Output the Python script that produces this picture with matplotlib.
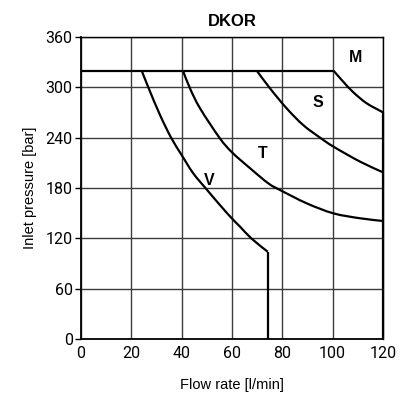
import matplotlib
matplotlib.use("Agg")
import matplotlib.pyplot as plt
from matplotlib.path import Path
from matplotlib.patches import PathPatch

# ---- data ----
title = "DKOR"
x_label = "Flow rate [l/min]"
y_label = "Inlet pressure [bar]"
x_ticks = [0, 20, 40, 60, 80, 100, 120]
y_ticks = [0, 60, 120, 180, 240, 300, 360]

max_flow = [0, 100.3]
max_pres = [320, 320]

v_flow = [24.1, 26.8, 31.4, 35.8, 40.0, 44.6, 49.9, 55.2, 59.9, 63.2, 67.8, 74.2]
v_pres = [320, 299.6, 267, 240, 219.3, 197.5, 178.4, 159.7, 143.9, 133.9, 119.6, 104]
v_drop_flow = [74.2, 74.2]
v_drop_pres = [104, 0]

t_flow = [40.5, 43.3, 47.3, 55.0, 60.0, 67.2, 74.4, 79.1, 89.7, 100.3, 110.9, 120]
t_pres = [320, 298.8, 275, 240, 222.5, 203.5, 185.6, 177.6, 161.7, 149.8, 143.9, 140.7]

s_flow = [69.8, 75.1, 81.7, 88.3, 95.0, 100.3, 110.9, 120]
s_pres = [320, 298.8, 275, 255, 240, 229.3, 211.4, 198.7]

m_flow = [100.3, 104.2, 108.2, 113.5, 120]
m_pres = [320, 306.7, 294.1, 281, 270.2]
m_drop_flow = [120, 120]
m_drop_pres = [270.2, 0]

curve_labels = ["M", "S", "T", "V"]
label_x = [108.9, 94.2, 72.0, 50.9]
label_y = [335, 282.5, 221.7, 189.5]


def smooth_path(ax, xs, ys):
    """Smooth rendering (Catmull-Rom as cubic Bezier) through the read points,
    built in display space."""
    pts = ax.transData.transform(list(zip(xs, ys)))
    n = len(pts)
    verts = [pts[0]]
    codes = [Path.MOVETO]
    for i in range(n - 1):
        p0 = pts[i - 1] if i > 0 else pts[i]
        p1 = pts[i]
        p2 = pts[i + 1]
        p3 = pts[i + 2] if i + 2 < n else pts[i + 1]
        c1 = p1 + (p2 - p0) / 6.0
        c2 = p2 - (p3 - p1) / 6.0
        verts += [c1, c2, p2]
        codes += [Path.CURVE4] * 3
    return Path(verts, codes)


fig = plt.figure(figsize=(4.07, 3.98), dpi=100)
ax = fig.add_axes([81/407, 1 - 339/398, 302/407, 302/398])

ax.set_xlim(0, 120)
ax.set_ylim(0, 360)
ax.set_xticks(x_ticks)
ax.set_yticks(y_ticks)
ax.grid(True, color="#3c3c3c", linewidth=1.0)
ax.set_axisbelow(True)

lw = 1.6
for fx, py in [(max_flow, max_pres), (v_drop_flow, v_drop_pres),
               (m_drop_flow, m_drop_pres)]:
    ax.plot(fx, py, color="black", linewidth=lw, solid_capstyle="butt",
            clip_on=False, zorder=3)

for fx, py in [(v_flow, v_pres), (t_flow, t_pres), (s_flow, s_pres), (m_flow, m_pres)]:
    patch = PathPatch(smooth_path(ax, fx, py), facecolor="none", edgecolor="black",
                      linewidth=lw, transform=None, zorder=3, clip_on=False)
    fig.add_artist(patch)

for lab, lx, ly in zip(curve_labels, label_x, label_y):
    ax.text(lx, ly, lab, fontsize=11.5, fontweight="bold", ha="center",
            va="center", family="Liberation Sans", zorder=4)

for sp in ax.spines.values():
    sp.set_color("black")
    sp.set_linewidth(1.0)
ax.spines["left"].set_linewidth(1.3)
ax.spines["bottom"].set_linewidth(1.3)

ax.tick_params(axis="both", direction="out", length=4, width=1.0,
               labelsize=11.5, pad=2, labelcolor="black")
ax.tick_params(axis="x", length=0, pad=5)
for lbl in ax.get_xticklabels() + ax.get_yticklabels():
    lbl.set_family("Roboto")

ax.set_xlabel(x_label, fontsize=10.5, family="Liberation Sans", labelpad=12)
ax.set_ylabel(y_label, fontsize=10.5, family="Liberation Sans", labelpad=6)
ax.set_title(title, fontsize=12, fontweight="bold", family="Liberation Sans", pad=8)

fig.savefig("out.png", dpi=100)
